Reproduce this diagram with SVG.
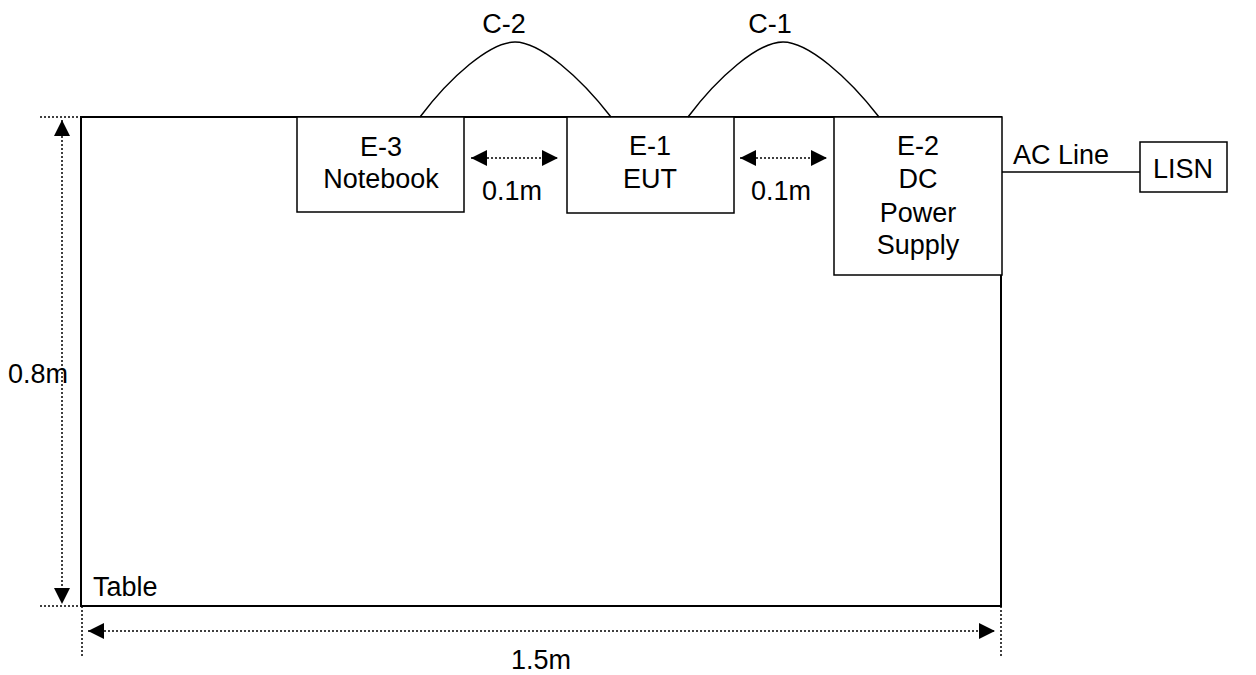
<svg xmlns="http://www.w3.org/2000/svg" width="1256" height="675" viewBox="0 0 1256 675">
<defs>
<marker id="ahb" viewBox="0 0 10 10" refX="10" refY="5" markerWidth="16" markerHeight="16" markerUnits="userSpaceOnUse" orient="auto-start-reverse"><path d="M0,0 L10,5 L0,10 Z" fill="#000"/></marker>
<style>
text{font-family:"Liberation Sans",Arial,sans-serif;font-size:27px;fill:#000}
.box{fill:#fff;stroke:#000;stroke-width:1.5}
.dot{fill:none;stroke:#000;stroke-width:1.5;stroke-dasharray:2 2}
.dim{fill:none;stroke:#000;stroke-width:1.5;stroke-dasharray:2 2;marker-start:url(#ahb);marker-end:url(#ahb)}
.cab{fill:none;stroke:#000;stroke-width:1.5}
</style>
</defs>
<g id="table">
<rect x="81" y="117" width="920" height="489" fill="#fff" stroke="#000" stroke-width="2"/>
<text x="93" y="596">Table</text>
</g>
<g id="dimensions">
<path class="dot" d="M40,117 H81 M40,606 H105 M82,606 V656 M1001,606 V656"/>
<path class="dim" d="M62,120 V604"/>
<path class="dim" d="M88,631 H995"/>
<text x="8" y="383">0.8m</text>
<text x="541" y="669" text-anchor="middle">1.5m</text>
</g>
<g id="e3">
<rect class="box" x="297" y="117" width="167" height="95"/>
<text x="381" y="156" text-anchor="middle">E-3</text>
<text x="381" y="188" text-anchor="middle">Notebook</text>
</g>
<g id="e1">
<rect class="box" x="567" y="117" width="167" height="96"/>
<text x="650" y="155" text-anchor="middle">E-1</text>
<text x="650" y="188" text-anchor="middle">EUT</text>
</g>
<g id="e2">
<rect class="box" x="834" y="117" width="168" height="158"/>
<text x="918" y="155" text-anchor="middle">E-2</text>
<text x="918" y="188" text-anchor="middle">DC</text>
<text x="918" y="222" text-anchor="middle">Power</text>
<text x="918" y="254" text-anchor="middle">Supply</text>
</g>
<g id="lisn">
<rect class="box" x="1140" y="142" width="87" height="50"/>
<text x="1183" y="178" text-anchor="middle">LISN</text>
</g>
<g id="connectors">
<path class="cab" d="M420,117 C450,77 490,42 515,42 C540,42 580,77 611,117"/>
<path class="cab" d="M688,117 C718,77 758,42 783,42 C808,42 848,77 879,117"/>
<path class="cab" d="M1002,172 H1140"/>
<path class="dim" d="M471,158 H558"/>
<path class="dim" d="M740,158 H827"/>
<text x="504" y="33" text-anchor="middle">C-2</text>
<text x="770" y="33" text-anchor="middle">C-1</text>
<text x="1013" y="164">AC Line</text>
<text x="512" y="200" text-anchor="middle">0.1m</text>
<text x="781" y="200" text-anchor="middle">0.1m</text>
</g>
</svg>
